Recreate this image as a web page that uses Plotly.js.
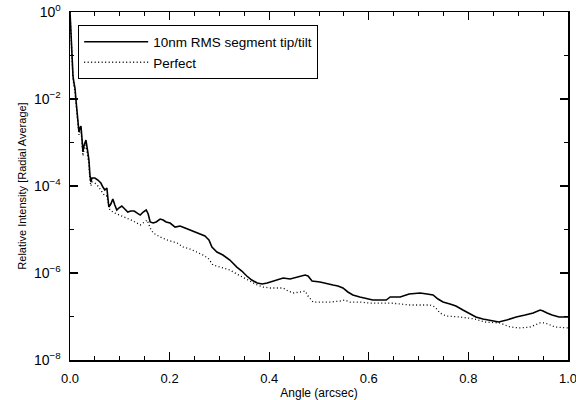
<!DOCTYPE html>
<html>
<head>
<meta charset="utf-8">
<script src="https://cdn.plot.ly/plotly-3.0.1.min.js"></script>
<style>html,body{margin:0;padding:0;background:#fff;}#chart{width:576px;height:400px;}</style>
</head>
<body>
<div id="chart"></div>
<script>
// Angle (arcsec) and relative intensity
const angleSeg = [0,0.001,0.002,0.004,0.006,0.008,0.010,0.012,0.014,0.016,0.018,0.020,0.022,0.024,0.026,0.028,0.032,0.036,0.038,0.040,0.042,0.044,0.050,0.056,0.062,0.066,0.070,0.074,0.076,0.078,0.082,0.086,0.090,0.094,0.098,0.104,0.110,0.116,0.122,0.129,0.135,0.141,0.147,0.153,0.157,0.161,0.167,0.173,0.181,0.187,0.193,0.201,0.211,0.221,0.231,0.241,0.251,0.261,0.271,0.275,0.279,0.285,0.295,0.307,0.321,0.335,0.345,0.355,0.365,0.376,0.386,0.396,0.408,0.418,0.428,0.442,0.456,0.472,0.478,0.486,0.502,0.516,0.528,0.538,0.548,0.558,0.568,0.582,0.596,0.608,0.622,0.635,0.643,0.663,0.681,0.703,0.717,0.729,0.739,0.749,0.763,0.775,0.789,0.803,0.815,0.829,0.843,0.861,0.877,0.896,0.914,0.930,0.944,0.950,0.958,0.968,0.982,1.000];
const intensitySeg = [1,0.502,0.227,0.0788,0.0338,0.0233,0.0179,0.00948,0.00477,0.00266,0.00174,0.00215,0.00239,0.00127,0.000605,0.000832,0.00114,0.000574,0.000396,0.000179,0.000124,0.000153,0.000153,0.000137,0.000117,9.48e-5,8.09e-5,8.99e-5,5.30e-5,3.29e-5,3.85e-5,5.02e-5,3.66e-5,2.81e-5,3.12e-5,3.47e-5,2.96e-5,2.52e-5,2.66e-5,2.66e-5,2.39e-5,2.15e-5,2.52e-5,2.81e-5,2.27e-5,1.49e-5,1.41e-5,1.49e-5,1.74e-5,1.65e-5,1.49e-5,1.41e-5,1.14e-5,1.20e-5,1.08e-5,9.74e-6,8.77e-6,7.88e-6,7.10e-6,6.38e-6,5.74e-6,3.96e-6,3.04e-6,2.59e-6,1.99e-6,1.37e-6,1.11e-6,8.53e-7,6.90e-7,5.89e-7,5.58e-7,5.89e-7,6.55e-7,7.28e-7,7.67e-7,7.28e-7,8.09e-7,8.99e-7,8.53e-7,6.55e-7,6.21e-7,5.58e-7,5.30e-7,5.02e-7,4.52e-7,3.66e-7,3.12e-7,2.81e-7,2.52e-7,2.39e-7,2.39e-7,2.39e-7,2.81e-7,2.81e-7,3.29e-7,3.47e-7,3.29e-7,3.12e-7,2.52e-7,2.15e-7,1.94e-7,1.74e-7,1.41e-7,1.14e-7,9.74e-8,8.77e-8,8.31e-8,7.48e-8,8.31e-8,9.74e-8,1.08e-7,1.20e-7,1.41e-7,1.34e-7,1.20e-7,1.08e-7,9.74e-8,9.74e-8];

const anglePerfect = [0,0.001,0.002,0.004,0.006,0.008,0.010,0.012,0.014,0.016,0.018,0.020,0.022,0.024,0.026,0.028,0.032,0.036,0.038,0.040,0.042,0.044,0.050,0.056,0.062,0.066,0.070,0.074,0.078,0.080,0.090,0.100,0.114,0.127,0.141,0.149,0.155,0.161,0.167,0.181,0.195,0.215,0.227,0.241,0.255,0.267,0.277,0.287,0.301,0.321,0.335,0.347,0.361,0.376,0.388,0.402,0.416,0.428,0.438,0.448,0.462,0.472,0.478,0.484,0.488,0.502,0.522,0.542,0.552,0.562,0.582,0.602,0.622,0.643,0.663,0.683,0.703,0.723,0.733,0.743,0.755,0.783,0.813,0.833,0.863,0.884,0.904,0.924,0.944,0.954,0.964,0.974,1.000];
const intensityPerfect = [1,0.502,0.204,0.0709,0.0304,0.0199,0.0145,0.00809,0.00406,0.00215,0.00149,0.00194,0.00204,0.00103,0.000490,0.000673,0.000875,0.000441,0.000304,0.000137,0.000100,0.000124,0.000117,0.000100,8.09e-5,6.90e-5,5.89e-5,5.89e-5,3.12e-5,2.81e-5,2.39e-5,2.15e-5,1.84e-5,1.57e-5,1.27e-5,1.49e-5,1.65e-5,1.08e-5,8.31e-6,6.73e-6,5.74e-6,4.90e-6,3.96e-6,3.56e-6,3.04e-6,2.59e-6,2.21e-6,1.53e-6,1.37e-6,1.17e-6,9.48e-7,8.09e-7,6.55e-7,5.30e-7,4.76e-7,4.52e-7,4.52e-7,4.52e-7,3.85e-7,3.47e-7,3.66e-7,3.85e-7,2.96e-7,2.39e-7,2.15e-7,2.15e-7,2.15e-7,2.27e-7,2.39e-7,2.15e-7,2.15e-7,2.04e-7,2.04e-7,2.04e-7,1.94e-7,1.84e-7,1.84e-7,1.84e-7,1.65e-7,1.20e-7,1.03e-7,9.74e-8,8.77e-8,7.48e-8,7.10e-8,5.74e-8,5.45e-8,5.74e-8,7.10e-8,7.10e-8,6.38e-8,5.74e-8,5.45e-8];

const seriesNames = ['10nm RMS segment tip/tilt', 'Perfect'];
const yTickVals = [1, 1e-2, 1e-4, 1e-6, 1e-8];
const yTickText = ['10<sup>0</sup>', '10<sup>\u22122</sup>', '10<sup>\u22124</sup>', '10<sup>\u22126</sup>', '10<sup>\u22128</sup>'];
const yMinorVals = [1e-1, 1e-3, 1e-5, 1e-7];
const xTickVals = [0, 0.2, 0.4, 0.6, 0.8, 1.0];
const xTickText = ['0.0', '0.2', '0.4', '0.6', '0.8', '1.0'];

const font = 'Liberation Sans, Arial, Helvetica, sans-serif';

const traces = [
  {x: angleSeg, y: intensitySeg, name: seriesNames[0], type: 'scatter', mode: 'lines',
   line: {color: '#000', width: 1.6, dash: 'solid'}},
  {x: anglePerfect, y: intensityPerfect, name: seriesNames[1], type: 'scatter', mode: 'lines',
   line: {color: '#000', width: 1.3, dash: '1px,2.5px'}}
];

const layout = {
  width: 576, height: 400,
  margin: {l: 70, r: 8, t: 12, b: 40},
  paper_bgcolor: '#fff', plot_bgcolor: '#fff',
  font: {family: font, size: 12, color: '#000'},
  showlegend: true,
  legend: {x: 0.016, y: 0.962, xanchor: 'left', yanchor: 'top',
           bordercolor: '#000', borderwidth: 1.2, bgcolor: '#fff',
           font: {family: font, size: 13.5, color: '#000'},
           tracegroupgap: 0, itemwidth: 64},
  xaxis: {
    range: [0, 1], showgrid: false, zeroline: false,
    showline: true, linecolor: '#000', linewidth: 1.5, mirror: 'ticks',
    ticks: 'inside', ticklen: 8, tickwidth: 1.2, tickcolor: '#000',
    tickmode: 'array', tickvals: xTickVals, ticktext: xTickText,
    tickfont: {family: font, size: 13}, ticklabelstandoff: 6,
    ticklabeloverflow: 'allow',
    minor: {dtick: 0.05, tick0: 0, ticks: 'inside', ticklen: 4, tickwidth: 1, tickcolor: '#000', showgrid: false},
    title: {text: 'Angle (arcsec)', font: {family: font, size: 12}, standoff: 6}
  },
  yaxis: {
    type: 'log', range: [-8, 0], showgrid: false, zeroline: false,
    showline: true, linecolor: '#000', linewidth: 1.5, mirror: 'ticks',
    ticks: 'inside', ticklen: 8, tickwidth: 1.2, tickcolor: '#000',
    tickmode: 'array', tickvals: yTickVals, ticktext: yTickText,
    tickfont: {family: font, size: 14}, ticklabelstandoff: 5,
    ticklabeloverflow: 'allow',
    minor: {tickmode: 'array', tickvals: yMinorVals, ticks: 'inside', ticklen: 4, tickwidth: 1, tickcolor: '#000', showgrid: false},
    title: {text: 'Relative Intensity [Radial Average]', font: {family: font, size: 11}, standoff: 5}
  }
};

Plotly.newPlot('chart', traces, layout, {staticPlot: true, displayModeBar: false});
</script>
</body>
</html>
